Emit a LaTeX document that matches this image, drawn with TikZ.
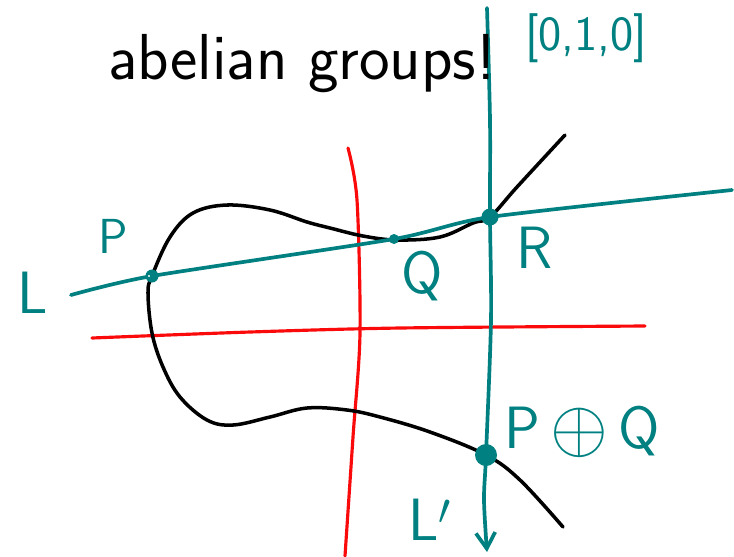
\documentclass[tikz,border=0pt]{standalone}
\usepackage{tikz}
\usetikzlibrary{arrows.meta,calc}
\definecolor{tealink}{RGB}{0,128,128}
\definecolor{redink}{RGB}{250,10,10}
\tikzset{
    inkteal/.style={line width=2.1pt, tealink, line cap=round},
    inkred/.style={line width=1.8pt, redink, line cap=round},
    inkblack/.style={line width=2pt, black, line cap=round},
    tealtext/.style={text=tealink, inner sep=0pt, font=\sffamily\fontsize{34}{40}\selectfont}
}

\begin{document}
\begin{tikzpicture}[x=0.02cm, y=-0.02cm, >={Straight Barb[length=9pt,width=11pt]}]
    \useasboundingbox (0,0) rectangle (734,556);

    % Points of the group law
    \coordinate (P) at (152,276);
    \coordinate (Q) at (394,239);
    \coordinate (R) at (490,217);
    \coordinate (PQ) at (486,455);

    % Ends of the lines
    \coordinate (Lw) at (71,295);
    \coordinate (Le) at (732,190);
    \coordinate (Ltop) at (487,8);
    \coordinate (Lbot) at (487,552);

    % Red axes
    \draw[inkred] plot[smooth] coordinates {(348,148) (357,200) (360,333) (353,437) (345,556)};
    \draw[inkred] plot[smooth] coordinates {(92,338) (250,332) (400,328) (645,326)};

    % Cubic curve
    \draw[inkblack] plot[smooth, tension=0.6] coordinates {
        (565,135) (517,187) (R) (473,223) (440,237) (397,240) (363,236) (330,228)
        (307,222) (270,210) (227,205) (193,213) (170,237) (P) (148,293) (152,333)
        (163,367) (180,397) (207,420) (233,425) (270,417) (307,408) (347,410)
        (380,417) (430,432) (PQ) (520,480) (563,527)};

    % Line L through P, Q, R
    \draw[inkteal] plot[smooth, tension=0.4] coordinates {(Lw) (P) (Q) (R) (Le)};

    % Line L' through R and P+Q
    \draw[inkteal, ->] plot[smooth] coordinates {(Ltop) (490,120) (R) (491,320) (PQ) (484,500) (Lbot)};

    % Points
    \fill[tealink] (P) circle (6.5);
    \fill[white] (149,276) circle (1.2);
    \fill[tealink] (Q) circle (5);
    \fill[tealink] (R) circle (8.5);
    \fill[tealink] (PQ) circle (11);

    % Labels
    \node[tealtext] (lblL) at (33,293) {L};
    \node[tealtext, font=\sffamily\fontsize{28}{34}\selectfont] (lblP) at (113,236) {P};
    \node[tealtext] (lblQ) at (422,276) {Q};
    \node[tealtext] (lblR) at (535,248) {R};
    \node[tealtext] (lblPQ) at (582,432) {P\,\raisebox{-2pt}{\scalebox{1.7}{$\oplus$}}\,Q};
    \node[tealtext] (lblLp) at (430,520) {L$'$};
    \node[tealtext, font=\sffamily\fontsize{28}{34}\selectfont] (lblinf) at (586,38) {[0,1,0]};

    % Title
    \node[inner sep=0pt, font=\sffamily\fontsize{37}{44}\selectfont] (title) at (302,64) {abelian groups!};
\end{tikzpicture}
\end{document}
